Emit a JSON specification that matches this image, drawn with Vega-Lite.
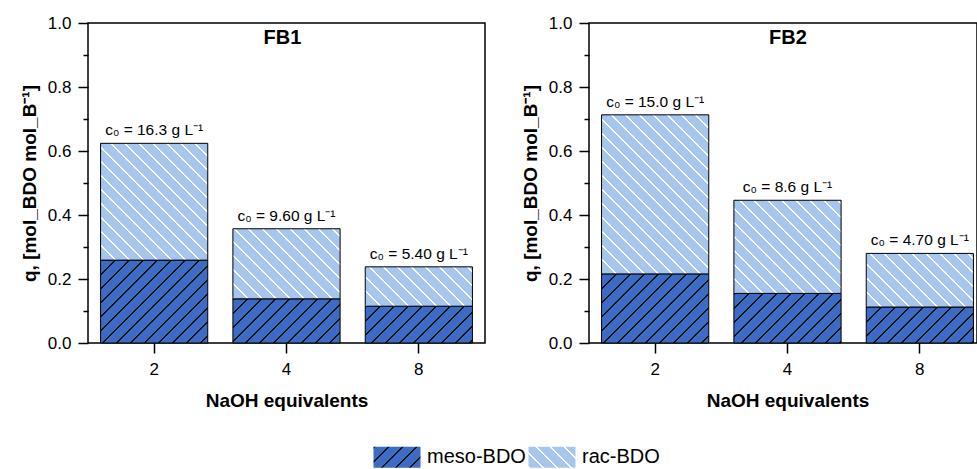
{
  "$schema": "https://vega.github.io/schema/vega-lite/v6.json",
  "padding": {"left": 19, "top": 13, "right": 0, "bottom": 0},
  "params": [
    {"name": "mesoStops", "expr": "[{offset:0,color:'#111'},{offset:0.008,color:'#111'},{offset:0.008,color:'#3c6bc4'},{offset:0.05,color:'#3c6bc4'},{offset:0.05,color:'#111'},{offset:0.058,color:'#111'},{offset:0.058,color:'#3c6bc4'},{offset:0.1,color:'#3c6bc4'},{offset:0.1,color:'#111'},{offset:0.108,color:'#111'},{offset:0.108,color:'#3c6bc4'},{offset:0.15,color:'#3c6bc4'},{offset:0.15,color:'#111'},{offset:0.158,color:'#111'},{offset:0.158,color:'#3c6bc4'},{offset:0.2,color:'#3c6bc4'},{offset:0.2,color:'#111'},{offset:0.208,color:'#111'},{offset:0.208,color:'#3c6bc4'},{offset:0.25,color:'#3c6bc4'},{offset:0.25,color:'#111'},{offset:0.258,color:'#111'},{offset:0.258,color:'#3c6bc4'},{offset:0.3,color:'#3c6bc4'},{offset:0.3,color:'#111'},{offset:0.308,color:'#111'},{offset:0.308,color:'#3c6bc4'},{offset:0.35,color:'#3c6bc4'},{offset:0.35,color:'#111'},{offset:0.358,color:'#111'},{offset:0.358,color:'#3c6bc4'},{offset:0.4,color:'#3c6bc4'},{offset:0.4,color:'#111'},{offset:0.408,color:'#111'},{offset:0.408,color:'#3c6bc4'},{offset:0.45,color:'#3c6bc4'},{offset:0.45,color:'#111'},{offset:0.458,color:'#111'},{offset:0.458,color:'#3c6bc4'},{offset:0.5,color:'#3c6bc4'},{offset:0.5,color:'#111'},{offset:0.508,color:'#111'},{offset:0.508,color:'#3c6bc4'},{offset:0.55,color:'#3c6bc4'},{offset:0.55,color:'#111'},{offset:0.558,color:'#111'},{offset:0.558,color:'#3c6bc4'},{offset:0.6,color:'#3c6bc4'},{offset:0.6,color:'#111'},{offset:0.608,color:'#111'},{offset:0.608,color:'#3c6bc4'},{offset:0.65,color:'#3c6bc4'},{offset:0.65,color:'#111'},{offset:0.658,color:'#111'},{offset:0.658,color:'#3c6bc4'},{offset:0.7,color:'#3c6bc4'},{offset:0.7,color:'#111'},{offset:0.708,color:'#111'},{offset:0.708,color:'#3c6bc4'},{offset:0.75,color:'#3c6bc4'},{offset:0.75,color:'#111'},{offset:0.758,color:'#111'},{offset:0.758,color:'#3c6bc4'},{offset:0.8,color:'#3c6bc4'},{offset:0.8,color:'#111'},{offset:0.808,color:'#111'},{offset:0.808,color:'#3c6bc4'},{offset:0.85,color:'#3c6bc4'},{offset:0.85,color:'#111'},{offset:0.858,color:'#111'},{offset:0.858,color:'#3c6bc4'},{offset:0.9,color:'#3c6bc4'},{offset:0.9,color:'#111'},{offset:0.908,color:'#111'},{offset:0.908,color:'#3c6bc4'},{offset:0.95,color:'#3c6bc4'},{offset:0.95,color:'#111'},{offset:0.958,color:'#111'},{offset:0.958,color:'#3c6bc4'},{offset:1,color:'#3c6bc4'}]"},
    {"name": "racStops", "expr": "[{offset:0,color:'#fff'},{offset:0.008,color:'#fff'},{offset:0.008,color:'#a7c6ef'},{offset:0.05,color:'#a7c6ef'},{offset:0.05,color:'#fff'},{offset:0.058,color:'#fff'},{offset:0.058,color:'#a7c6ef'},{offset:0.1,color:'#a7c6ef'},{offset:0.1,color:'#fff'},{offset:0.108,color:'#fff'},{offset:0.108,color:'#a7c6ef'},{offset:0.15,color:'#a7c6ef'},{offset:0.15,color:'#fff'},{offset:0.158,color:'#fff'},{offset:0.158,color:'#a7c6ef'},{offset:0.2,color:'#a7c6ef'},{offset:0.2,color:'#fff'},{offset:0.208,color:'#fff'},{offset:0.208,color:'#a7c6ef'},{offset:0.25,color:'#a7c6ef'},{offset:0.25,color:'#fff'},{offset:0.258,color:'#fff'},{offset:0.258,color:'#a7c6ef'},{offset:0.3,color:'#a7c6ef'},{offset:0.3,color:'#fff'},{offset:0.308,color:'#fff'},{offset:0.308,color:'#a7c6ef'},{offset:0.35,color:'#a7c6ef'},{offset:0.35,color:'#fff'},{offset:0.358,color:'#fff'},{offset:0.358,color:'#a7c6ef'},{offset:0.4,color:'#a7c6ef'},{offset:0.4,color:'#fff'},{offset:0.408,color:'#fff'},{offset:0.408,color:'#a7c6ef'},{offset:0.45,color:'#a7c6ef'},{offset:0.45,color:'#fff'},{offset:0.458,color:'#fff'},{offset:0.458,color:'#a7c6ef'},{offset:0.5,color:'#a7c6ef'},{offset:0.5,color:'#fff'},{offset:0.508,color:'#fff'},{offset:0.508,color:'#a7c6ef'},{offset:0.55,color:'#a7c6ef'},{offset:0.55,color:'#fff'},{offset:0.558,color:'#fff'},{offset:0.558,color:'#a7c6ef'},{offset:0.6,color:'#a7c6ef'},{offset:0.6,color:'#fff'},{offset:0.608,color:'#fff'},{offset:0.608,color:'#a7c6ef'},{offset:0.65,color:'#a7c6ef'},{offset:0.65,color:'#fff'},{offset:0.658,color:'#fff'},{offset:0.658,color:'#a7c6ef'},{offset:0.7,color:'#a7c6ef'},{offset:0.7,color:'#fff'},{offset:0.708,color:'#fff'},{offset:0.708,color:'#a7c6ef'},{offset:0.75,color:'#a7c6ef'},{offset:0.75,color:'#fff'},{offset:0.758,color:'#fff'},{offset:0.758,color:'#a7c6ef'},{offset:0.8,color:'#a7c6ef'},{offset:0.8,color:'#fff'},{offset:0.808,color:'#fff'},{offset:0.808,color:'#a7c6ef'},{offset:0.85,color:'#a7c6ef'},{offset:0.85,color:'#fff'},{offset:0.858,color:'#fff'},{offset:0.858,color:'#a7c6ef'},{offset:0.9,color:'#a7c6ef'},{offset:0.9,color:'#fff'},{offset:0.908,color:'#fff'},{offset:0.908,color:'#a7c6ef'},{offset:0.95,color:'#a7c6ef'},{offset:0.95,color:'#fff'},{offset:0.958,color:'#fff'},{offset:0.958,color:'#a7c6ef'},{offset:1,color:'#a7c6ef'}]"}
  ],
  "data": {"values": [
    {"panel": "FB1", "naoh": "2", "series": "meso-BDO", "q": 0.259, "c0": "16.3"},
    {"panel": "FB1", "naoh": "2", "series": "rac-BDO", "q": 0.365, "c0": "16.3"},
    {"panel": "FB1", "naoh": "4", "series": "meso-BDO", "q": 0.138, "c0": "9.60"},
    {"panel": "FB1", "naoh": "4", "series": "rac-BDO", "q": 0.219, "c0": "9.60"},
    {"panel": "FB1", "naoh": "8", "series": "meso-BDO", "q": 0.115, "c0": "5.40"},
    {"panel": "FB1", "naoh": "8", "series": "rac-BDO", "q": 0.123, "c0": "5.40"},
    {"panel": "FB2", "naoh": "2", "series": "meso-BDO", "q": 0.216, "c0": "15.0"},
    {"panel": "FB2", "naoh": "2", "series": "rac-BDO", "q": 0.497, "c0": "15.0"},
    {"panel": "FB2", "naoh": "4", "series": "meso-BDO", "q": 0.155, "c0": "8.6"},
    {"panel": "FB2", "naoh": "4", "series": "rac-BDO", "q": 0.291, "c0": "8.6"},
    {"panel": "FB2", "naoh": "8", "series": "meso-BDO", "q": 0.1125, "c0": "4.70"},
    {"panel": "FB2", "naoh": "8", "series": "rac-BDO", "q": 0.1675, "c0": "4.70"}
  ]},
  "spacing": 34,
  "hconcat": [
    {
      "width": 397,
      "height": 320,
      "title": {"text": "FB1", "frame": "group", "anchor": "middle", "offset": -34, "dx": -4, "fontSize": 20, "fontWeight": "bold", "font": "Liberation Sans", "color": "black"},
      "transform": [{"filter": "datum.panel === 'FB1'"}],
      "layer": [
        {
          "mark": {"type": "bar", "stroke": "black", "strokeWidth": 1, "fill": {"expr": "(datum.series || datum.value) === 'meso-BDO' ? {gradient:'linear',x1:0,y1:0,x2:280*(isValid(datum.q_end)?107.2:47)/(pow(isValid(datum.q_end)?107.2:47,2)+pow(isValid(datum.q_end)?320*(datum.q_end-datum.q_start):21,2)),y2:280*(isValid(datum.q_end)?320*(datum.q_end-datum.q_start):21)/(pow(isValid(datum.q_end)?107.2:47,2)+pow(isValid(datum.q_end)?320*(datum.q_end-datum.q_start):21,2)),stops:mesoStops} : {gradient:'linear',x1:0,y1:1,x2:280*(isValid(datum.q_end)?107.2:47)/(pow(isValid(datum.q_end)?107.2:47,2)+pow(isValid(datum.q_end)?320*(datum.q_end-datum.q_start):21,2)),y2:1-280*(isValid(datum.q_end)?320*(datum.q_end-datum.q_start):21)/(pow(isValid(datum.q_end)?107.2:47,2)+pow(isValid(datum.q_end)?320*(datum.q_end-datum.q_start):21,2)),stops:racStops}"}},
          "encoding": {
            "x": {"field": "naoh", "type": "nominal", "sort": ["2", "4", "8"], "scale": {"paddingInner": 0.19, "paddingOuter": 0.095}, "axis": {"title": "NaOH equivalents", "labelAngle": 0}},
            "y": {"field": "q", "type": "quantitative", "stack": "zero", "scale": {"domain": [0, 1], "nice": false}, "axis": {"orient": "left", "values": [0, 0.2, 0.4, 0.6, 0.8, 1], "format": ".1f", "title": "q, [mol_BDO mol_B⁻¹]"}},
            "order": {"field": "series", "sort": "ascending"},
            "opacity": {"field": "series", "type": "nominal", "scale": {"domain": ["meso-BDO", "rac-BDO"], "range": [1, 1]},
              "legend": {"title": null, "orient": "none", "legendX": 285, "legendY": 410, "direction": "horizontal", "labelFontSize": 20, "labelFont": "Liberation Sans", "labelColor": "black", "symbolType": "M-1,-0.447H1V0.447H-1Z", "symbolSize": 2209, "symbolStrokeColor": "black", "symbolStrokeWidth": 1, "symbolOpacity": 1, "labelOffset": 6, "columnPadding": 0}}
          }
        },
        {
          "transform": [
            {"aggregate": [{"op": "sum", "field": "q", "as": "total"}], "groupby": ["naoh", "c0"]},
            {"calculate": "'c₀ = ' + datum.c0 + ' g L⁻¹'", "as": "label"}
          ],
          "mark": {"type": "text", "baseline": "alphabetic", "dy": -8, "fontSize": 15.5, "color": "black"},
          "encoding": {
            "x": {"field": "naoh", "type": "nominal", "sort": ["2", "4", "8"]},
            "y": {"field": "total", "type": "quantitative", "scale": {"domain": [0, 1], "nice": false}, "axis": {"orient": "left", "values": [0.1, 0.3, 0.5, 0.7, 0.9], "labels": false, "tickSize": 5, "title": null, "domain": false}},
            "text": {"field": "label"}
          }
        }
      ],
      "resolve": {"axis": {"y": "independent"}}
    },
    {
      "width": 388,
      "height": 320,
      "title": {"text": "FB2", "frame": "group", "anchor": "middle", "offset": -34, "dx": 5, "fontSize": 20, "fontWeight": "bold", "font": "Liberation Sans", "color": "black"},
      "transform": [{"filter": "datum.panel === 'FB2'"}],
      "layer": [
        {
          "mark": {"type": "bar", "stroke": "black", "strokeWidth": 1, "fill": {"expr": "(datum.series || datum.value) === 'meso-BDO' ? {gradient:'linear',x1:0,y1:0,x2:280*(isValid(datum.q_end)?107.2:47)/(pow(isValid(datum.q_end)?107.2:47,2)+pow(isValid(datum.q_end)?320*(datum.q_end-datum.q_start):21,2)),y2:280*(isValid(datum.q_end)?320*(datum.q_end-datum.q_start):21)/(pow(isValid(datum.q_end)?107.2:47,2)+pow(isValid(datum.q_end)?320*(datum.q_end-datum.q_start):21,2)),stops:mesoStops} : {gradient:'linear',x1:0,y1:1,x2:280*(isValid(datum.q_end)?107.2:47)/(pow(isValid(datum.q_end)?107.2:47,2)+pow(isValid(datum.q_end)?320*(datum.q_end-datum.q_start):21,2)),y2:1-280*(isValid(datum.q_end)?320*(datum.q_end-datum.q_start):21)/(pow(isValid(datum.q_end)?107.2:47,2)+pow(isValid(datum.q_end)?320*(datum.q_end-datum.q_start):21,2)),stops:racStops}"}},
          "encoding": {
            "x": {"field": "naoh", "type": "nominal", "sort": ["2", "4", "8"], "scale": {"paddingInner": 0.19, "paddingOuter": 0.095, "range": [0, 397]}, "axis": {"title": "NaOH equivalents", "labelAngle": 0}},
            "y": {"field": "q", "type": "quantitative", "stack": "zero", "scale": {"domain": [0, 1], "nice": false}, "axis": {"orient": "left", "values": [0, 0.2, 0.4, 0.6, 0.8, 1], "format": ".1f", "title": "q, [mol_BDO mol_B⁻¹]"}},
            "order": {"field": "series", "sort": "ascending"},
            "opacity": {"field": "series", "type": "nominal", "scale": {"domain": ["meso-BDO", "rac-BDO"], "range": [1, 1]},
              "legend": {"title": null, "orient": "none", "legendX": 285, "legendY": 410, "direction": "horizontal", "labelFontSize": 20, "labelFont": "Liberation Sans", "labelColor": "black", "symbolType": "M-1,-0.447H1V0.447H-1Z", "symbolSize": 2209, "symbolStrokeColor": "black", "symbolStrokeWidth": 1, "symbolOpacity": 1, "labelOffset": 6, "columnPadding": 0}}
          }
        },
        {
          "transform": [
            {"aggregate": [{"op": "sum", "field": "q", "as": "total"}], "groupby": ["naoh", "c0"]},
            {"calculate": "'c₀ = ' + datum.c0 + ' g L⁻¹'", "as": "label"}
          ],
          "mark": {"type": "text", "baseline": "alphabetic", "dy": -8, "fontSize": 15.5, "color": "black"},
          "encoding": {
            "x": {"field": "naoh", "type": "nominal", "sort": ["2", "4", "8"], "scale": {"paddingInner": 0.19, "paddingOuter": 0.095, "range": [0, 397]}},
            "y": {"field": "total", "type": "quantitative", "scale": {"domain": [0, 1], "nice": false}, "axis": {"orient": "left", "values": [0.1, 0.3, 0.5, 0.7, 0.9], "labels": false, "tickSize": 5, "title": null, "domain": false}},
            "text": {"field": "label"}
          }
        }
      ],
      "resolve": {"axis": {"y": "independent"}}
    }
  ],
  "config": {
    "font": "Liberation Sans",
    "view": {"stroke": "black", "strokeWidth": 1.5},
    "axis": {"domain": false, "grid": false, "tickColor": "black", "tickWidth": 1.5, "labelColor": "black", "titleColor": "black", "labelFontSize": 17, "titleFontSize": 19, "titleFontWeight": "bold", "labelFont": "Liberation Sans", "titleFont": "Liberation Sans"},
    "axisY": {"tickSize": 10, "labelPadding": 7, "titlePadding": 8},
    "axisX": {"tickSize": 10, "labelPadding": 8, "titlePadding": 14, "labelAngle": 0}
  }
}
